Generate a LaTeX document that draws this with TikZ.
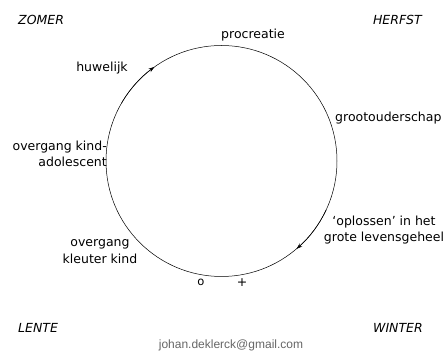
\documentclass[tikz,border=0pt]{standalone}
\usepackage{fontspec}
\setmainfont{DejaVu Sans}
\newfontfamily\mailfont{Liberation Sans}
\usetikzlibrary{arrows.meta}

\begin{document}
\begin{tikzpicture}[
    x=1pt, y=1pt,
    >={Stealth[length=6pt,width=4pt]},
    lbl/.style={
        font=\fontsize{12.5}{16.5}\selectfont,
        inner sep=0pt,
        align=center
    },
    season/.style={
        lbl,
        font=\fontsize{12.5}{16.5}\selectfont\itshape
    },
    arr/.style={->, line width=0.5pt}
]
    \useasboundingbox (0,0) rectangle (445,356);

    \node[draw, circle, line width=0.5pt, minimum size=231pt,
        inner sep=0pt, outer sep=0pt] (cycle) at (221.5,195) {};

    \draw[arr] (cycle.150) arc[start angle=150, end angle=125.5, radius=115.5pt];
    \draw[arr] (cycle.-25) arc[start angle=-25, end angle=-49.5, radius=115.5pt];

    \node[season, anchor=west] (zomer) at (18,336) {ZOMER};
    \node[season, anchor=east] (herfst) at (422,336) {HERFST};
    \node[season, anchor=west] (lente) at (18,28) {LENTE};
    \node[season, anchor=east] (winter) at (423,28) {WINTER};

    \node[lbl] (procreatie) at (253,321) {procreatie};
    \node[lbl] (huwelijk) at (102,288) {huwelijk};
    \node[lbl, anchor=west] (grootouder) at (335,238) {grootouderschap};
    \node[lbl, anchor=east, align=right] (adolescent) at (107,202)
        {overgang kind-\\adolescent};
    \node[lbl] (kleuter) at (100,104.5) {overgang\\kleuter kind};
    \node[lbl] (oplossen) at (384,126)
        {`oplossen' in het\\grote levensgeheel};

    \node[lbl, font=\fontsize{11.5}{13}\selectfont] (min) at (201,73.5) {o};
    \node[lbl] (plus) at (242,73) {+};

    \node[font=\mailfont\fontsize{12}{14}\selectfont, text=black!60,
        inner sep=0pt] (mail) at (231,11) {johan.deklerck@gmail.com};
\end{tikzpicture}
\end{document}
